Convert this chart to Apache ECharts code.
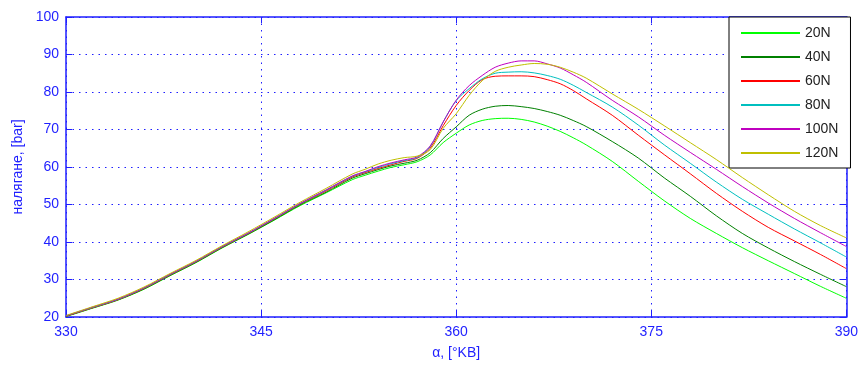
<!DOCTYPE html>
<html>
<head>
<meta charset="utf-8">
<script src="https://cdn.jsdelivr.net/npm/echarts@6/dist/echarts.min.js"></script>
<style>
  html, body { margin: 0; padding: 0; background: #fff; }
  #chart { width: 861px; height: 365px; }
</style>
</head>
<body>
<div id="chart"></div>
<script>
// ъгъл на коляновия вал
const angles = [330, 332, 334, 336, 338, 340, 342, 344, 346, 348, 350, 352, 353, 354, 355, 356, 357, 358, 359, 360,
    361, 362, 363, 364, 365, 366, 367, 368, 369, 370, 372, 374, 376, 378, 380, 382, 384, 386, 388, 390];

const seriesNames = ['20N', '40N', '60N', '80N', '100N', '120N'];
const seriesColors = ['#00ff00', '#008000', '#ff0000', '#00bfbf', '#bf00bf', '#bfbf00'];

const p20 = [20.1, 22.3, 24.5, 27.4, 31.0, 34.5, 38.4, 42.0, 45.8, 49.7, 53.1, 56.6, 57.8, 58.9, 59.9, 60.6, 61.4, 63.2, 66.5, 69.0,
    71.2, 72.4, 72.9, 73.0, 72.7, 72.0, 70.9, 69.5, 67.8, 65.9, 61.5, 56.2, 51.0, 46.3, 42.3, 38.5, 35.0, 31.6, 28.2, 25.0];
const p40 = [20.2, 22.4, 24.6, 27.5, 31.1, 34.6, 38.5, 42.1, 45.9, 49.9, 53.3, 57.0, 58.2, 59.3, 60.3, 61.0, 61.8, 63.8, 67.6, 70.7,
    73.8, 75.4, 76.2, 76.4, 76.1, 75.6, 74.8, 73.8, 72.4, 70.8, 66.8, 62.4, 57.1, 52.2, 47.0, 42.3, 38.4, 34.8, 31.4, 28.1];
const p60 = [20.2, 22.4, 24.6, 27.6, 31.2, 34.7, 38.6, 42.2, 46.1, 50.1, 53.6, 57.3, 58.5, 59.6, 60.6, 61.5, 62.3, 65.0, 71.0, 76.4,
    80.4, 83.3, 84.2, 84.3, 84.3, 84.1, 83.3, 82.2, 80.4, 78.2, 73.8, 68.5, 63.3, 58.2, 53.0, 48.2, 43.9, 40.3, 36.7, 32.9];
const p80 = [20.3, 22.5, 24.7, 27.7, 31.3, 34.8, 38.7, 42.3, 46.2, 50.2, 53.8, 57.5, 58.7, 59.9, 60.9, 61.7, 62.5, 65.4, 72.0, 77.7,
    80.9, 83.5, 85.0, 85.3, 85.4, 85.1, 84.4, 83.4, 81.8, 79.9, 76.0, 71.2, 65.9, 61.0, 56.0, 51.4, 47.4, 43.5, 39.8, 36.0];
const p100 = [20.3, 22.6, 24.8, 27.8, 31.4, 34.9, 38.8, 42.4, 46.3, 50.3, 53.9, 57.6, 58.8, 60.1, 61.1, 61.9, 62.7, 65.6, 72.0, 77.8,
    81.7, 84.4, 86.6, 87.7, 88.3, 88.3, 87.5, 86.4, 84.6, 82.6, 77.8, 73.4, 68.5, 63.9, 59.4, 54.8, 50.4, 46.3, 42.5, 38.8];
const p120 = [20.4, 22.7, 25.0, 28.0, 31.6, 35.1, 39.0, 42.7, 46.6, 50.6, 54.3, 58.1, 59.4, 60.8, 61.8, 62.5, 62.9, 64.6, 70.3, 74.2,
    79.1, 83.0, 85.5, 86.6, 87.2, 87.6, 87.4, 86.6, 85.3, 83.7, 79.5, 75.4, 71.0, 66.5, 62.0, 57.2, 52.6, 48.2, 44.4, 41.1];

const pressures = [p20, p40, p60, p80, p100, p120];

const xTicks = [330, 345, 360, 375, 390];
const yTicks = [20, 30, 40, 50, 60, 70, 80, 90, 100];

const axisBlue = '#1f1fff';
const fontFamily = 'Liberation Sans, Arial, sans-serif';

document.addEventListener('DOMContentLoaded', function() {
    initPressureChart();
});

function initPressureChart() {
    const el = document.getElementById('chart');
    const chart = echarts.init(el, null, { renderer: 'canvas' });

    // серии за всеки товар
    const series = seriesNames.map((name, i) => ({
        name: name,
        type: 'line',
        xAxisIndex: 0,
        yAxisIndex: 0,
        data: angles.map((a, j) => [a, pressures[i][j]]),
        showSymbol: false,
        smooth: 0.3,
        lineStyle: { color: seriesColors[i], width: 1 },
        itemStyle: { color: seriesColors[i] },
        z: 2 + i
    }));

    const gridLine = { show: true, lineStyle: { color: axisBlue, type: [1.5, 5], width: 1 } };

    const option = {
        animation: false,
        backgroundColor: '#fff',
        grid: { left: 66, right: 13, top: 17, bottom: 44, containLabel: false },
        legend: {
            data: seriesNames.map(n => ({ name: n, icon: 'rect' })),
            orient: 'vertical',
            left: 729,
            top: 17,
            itemWidth: 59,
            itemHeight: 2,
            itemGap: 10,
            padding: [9, 12, 8, 12],
            backgroundColor: '#fff',
            borderColor: '#000',
            borderWidth: 1,
            textStyle: { color: '#222', fontSize: 14, fontFamily: fontFamily },
            selectedMode: false
        },
        xAxis: [
            {
                type: 'value',
                min: 330,
                max: 390,
                interval: 15,
                position: 'bottom',
                name: 'α, [°KB]',
                nameLocation: 'middle',
                nameGap: 29,
                nameTextStyle: { color: axisBlue, fontSize: 14, fontFamily: fontFamily },
                axisLine: { show: true, lineStyle: { color: axisBlue, width: 1.5 } },
                axisTick: { show: true, inside: true, length: 6, lineStyle: { color: axisBlue } },
                axisLabel: { color: axisBlue, fontSize: 14, fontFamily: fontFamily, margin: 8 },
                splitLine: gridLine
            },
            {
                type: 'value',
                min: 330,
                max: 390,
                interval: 15,
                position: 'top',
                axisLine: { show: true, lineStyle: { color: axisBlue, width: 1.5 } },
                axisTick: { show: true, inside: true, length: 6, lineStyle: { color: axisBlue } },
                axisLabel: { show: false },
                splitLine: { show: false }
            }
        ],
        yAxis: [
            {
                type: 'value',
                min: 20,
                max: 100,
                interval: 10,
                position: 'left',
                name: 'налягане, [bar]',
                nameLocation: 'middle',
                nameGap: 41,
                nameTextStyle: { color: axisBlue, fontSize: 14, fontFamily: fontFamily },
                axisLine: { show: true, lineStyle: { color: axisBlue, width: 1.5 } },
                axisTick: { show: true, inside: true, length: 6, lineStyle: { color: axisBlue } },
                axisLabel: { color: axisBlue, fontSize: 14, fontFamily: fontFamily, margin: 7 },
                splitLine: gridLine
            },
            {
                type: 'value',
                min: 20,
                max: 100,
                interval: 10,
                position: 'right',
                axisLine: { show: true, lineStyle: { color: axisBlue, width: 1.5 } },
                axisTick: { show: true, inside: true, length: 6, lineStyle: { color: axisBlue } },
                axisLabel: { show: false },
                splitLine: { show: false }
            }
        ],
        series: series
    };

    chart.setOption(option);

    window.addEventListener('resize', function() {
        chart.resize();
    });
}
</script>
</body>
</html>
